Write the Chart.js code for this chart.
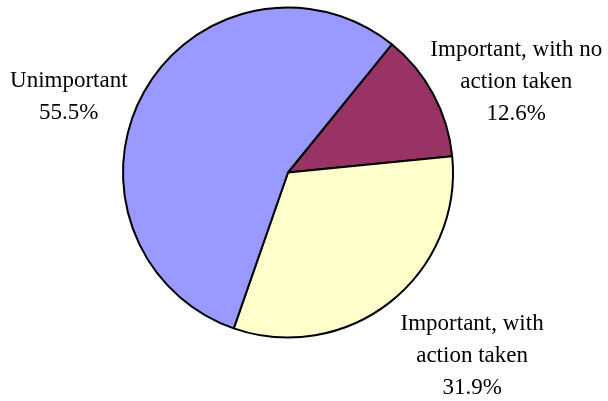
<!DOCTYPE html>
<html>
<head>
<meta charset="utf-8">
<script src="https://cdn.jsdelivr.net/npm/chart.js@4/dist/chart.umd.min.js"></script>
<style>
    html, body { margin: 0; padding: 0; background: #fff; }
    #canvas-widget-pie { display: block; }
</style>
</head>
<body>
<canvas id="canvas-widget-pie" width="608" height="401"></canvas>
<script>
// data
const categories = [['Important, with no', 'action taken'], ['Important, with', 'action taken'], ['Unimportant']];
const shares = [12.6, 31.9, 55.5];
const sliceColors = ['#993366', '#FFFFCC', '#9999FF'];

/**
 * Draws the outside labels (name + percent) next to each slice,
 * anchored on the middle of the slice's outer edge.
 */
const outsideLabels = {
    id: 'outsideLabels',
    afterDatasetsDraw(chart, args, opts) {
        const ctx = chart.ctx;
        const meta = chart.getDatasetMeta(0);
        ctx.save();
        ctx.font = opts.font;
        ctx.fillStyle = '#000';
        ctx.textAlign = 'center';
        ctx.textBaseline = 'middle';

        meta.data.forEach((arc, i) => {
            const {x, y, startAngle, endAngle, outerRadius} = arc.getProps(['x', 'y', 'startAngle', 'endAngle', 'outerRadius'], true);
            const mid = (startAngle + endAngle) / 2;
            const [dx, dy] = opts.offsets[i];
            const cx = x + Math.cos(mid) * outerRadius + dx;
            const cy = y + Math.sin(mid) * outerRadius + dy;

            const lines = [...categories[i], shares[i].toFixed(1) + '%'];
            const top = cy - (lines.length - 1) * opts.lineHeight / 2;
            lines.forEach((l, j) => ctx.fillText(l, cx, top + j * opts.lineHeight));
        });
        ctx.restore();
    }
};

const ctx = document.getElementById('canvas-widget-pie');
new Chart(ctx, {
    type: 'pie',
    data: {
        labels: categories.map(c => c.join(' ')),
        datasets: [{
            data: shares,
            backgroundColor: sliceColors,
            borderColor: '#000',
            borderWidth: 2
        }]
    },
    options: {
        responsive: false,
        animation: false,
        rotation: 39,
        layout: { padding: { left: 122, right: 154, top: 6.5, bottom: 62.5 } },
        plugins: {
            legend: { display: false },
            tooltip: { enabled: false },
            outsideLabels: {
                font: '23px "Liberation Serif", "Times New Roman", serif',
                lineHeight: 32,
                offsets: [[83, -12], [82, 54], [-75, 5]]
            }
        }
    },
    plugins: [outsideLabels]
});
</script>
</body>
</html>
